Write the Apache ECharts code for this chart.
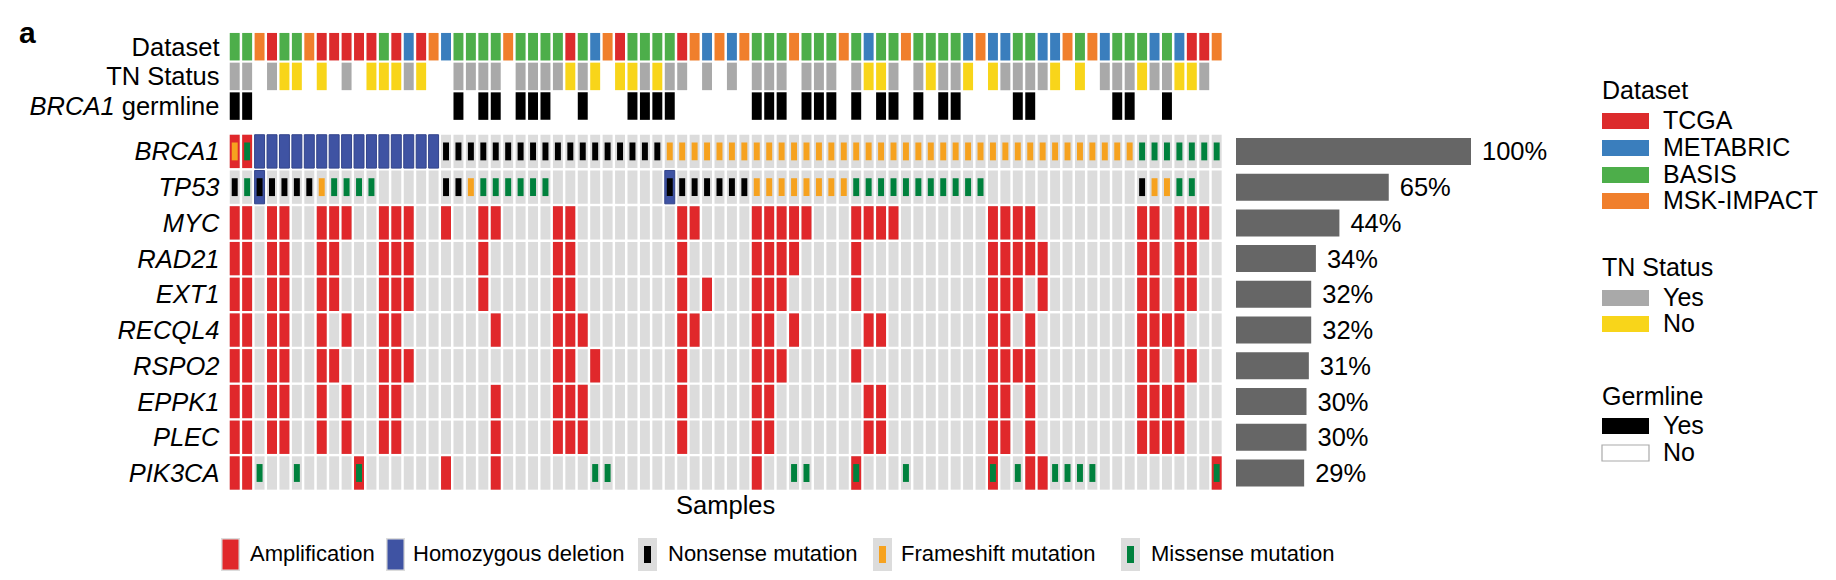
<!DOCTYPE html>
<html><head><meta charset="utf-8">
<script src="https://cdn.jsdelivr.net/npm/echarts@6/dist/echarts.min.js"></script>
<style>html,body{margin:0;padding:0;background:#fff}#c{width:1836px;height:580px}</style>
</head><body><div id="c"></div>
<script>
// ---------------- DATA ----------------
const samples = ['S01','S02','S03','S04','S05','S06','S07','S08','S09','S10','S11','S12','S13','S14','S15','S16','S17','S18','S19','S20',
'S21','S22','S23','S24','S25','S26','S27','S28','S29','S30','S31','S32','S33','S34','S35','S36','S37','S38','S39','S40',
'S41','S42','S43','S44','S45','S46','S47','S48','S49','S50','S51','S52','S53','S54','S55','S56','S57','S58','S59','S60',
'S61','S62','S63','S64','S65','S66','S67','S68','S69','S70','S71','S72','S73','S74','S75','S76','S77','S78','S79','S80'];
const annotationRows = ['Dataset', 'TN Status', 'BRCA1 germline'];
const genes = ['BRCA1','TP53','MYC','RAD21','EXT1','RECQL4','RSPO2','EPPK1','PLEC','PIK3CA'];
const genePercent = [100, 65, 44, 34, 32, 32, 31, 30, 30, 29];

// Dataset per sample (T=TCGA, M=METABRIC, B=BASIS, K=MSK-IMPACT)
const datasetBySample = [
 'B','B','K','T','B','B','K','T','T','T',  'T','T','B','T','M','T','K','M','B','B',
 'B','B','K','B','B','B','B','T','B','M',  'K','T','B','B','B','B','T','K','M','K',
 'M','K','B','B','B','K','B','B','B','K',  'B','M','B','B','K','B','B','B','B','M',
 'K','M','M','B','B','M','M','K','B','K',  'M','B','B','B','M','B','M','T','T','K'];
// TN status per sample (Y=Yes, N=No, ''=unknown)
const tnBySample = [
 'Y','Y','','Y','N','N','','N','','Y',  '','N','N','N','Y','N','','','Y','Y',
 'Y','Y','','Y','Y','Y','Y','N','Y','N',  '','N','N','Y','N','Y','Y','','Y','',
 'Y','','Y','Y','Y','','Y','Y','Y','',  'Y','N','N','Y','','Y','N','Y','Y','N',
 '','N','Y','Y','Y','Y','N','','N','',  'Y','Y','Y','N','Y','Y','N','N','Y',''];
// BRCA1 germline per sample (Y=Yes, ''=No)
const germlineBySample = [
 'Y','Y','','','','','','','','',  '','','','','','','','','Y','',
 'Y','Y','','Y','Y','Y','','','Y','',  '','','Y','Y','Y','Y','','','','',
 '','','Y','Y','Y','','Y','Y','Y','',  'Y','','Y','Y','','Y','','Y','Y','',
 '','','','Y','Y','','','','','',  '','Y','Y','','','Y','','','',''];

// Alterations per gene (A=amplification, H=homozygous deletion, N=nonsense, F=frameshift, M=missense)
const BRCA1 = [
 'AF','AM','H','H','H','H','H','H','H','H',  'H','H','H','H','H','H','H','N','N','N',
 'N','N','N','N','N','N','N','N','N','N',  'N','N','N','N','N','F','F','F','F','F',
 'F','F','F','F','F','F','F','F','F','F',  'F','F','F','F','F','F','F','F','F','F',
 'F','F','F','F','F','F','F','F','F','F',  'F','F','F','M','M','M','M','M','M','M'];
const TP53 = [
 'N','M','HN','N','N','N','N','F','M','M',  'M','M','','','','','','N','N','F',
 'M','M','M','M','M','M','','','','',  '','','','','','HN','N','N','N','N',
 'N','N','F','F','F','F','F','F','F','F',  'M','M','M','M','M','M','M','M','M','M',
 'M','','','','','','','','','',  '','','','N','F','F','M','M','',''];
const MYC = [
 'A','A','','A','A','','','A','A','A',  '','','A','A','A','','','A','','',
 'A','A','','','','','A','A','','',  '','','','','','','A','A','','',
 '','','A','A','A','A','A','','','',  'A','A','A','A','','','','','','',
 '','A','A','A','A','','','','','',  '','','','A','A','','A','A','A',''];
const RAD21 = [
 'A','A','','A','A','','','A','A','',  '','','A','A','A','','','','','',
 'A','','','','','','A','A','','',  '','','','','','','A','','','',
 '','','A','A','A','A','','','','',  'A','','','','','','','','','',
 '','A','A','A','A','A','','','','',  '','','','A','A','','A','A','',''];
const EXT1 = [
 'A','A','','A','A','','','A','A','',  '','','A','A','A','','','','','',
 'A','','','','','','A','A','','',  '','','','','','','A','','A','',
 '','','A','A','A','','','','','',  'A','','','','','','','','','',
 '','A','A','A','','A','','','','',  '','','','A','A','','A','A','',''];
const RECQL4 = [
 'A','A','','A','A','','','A','','A',  '','','A','A','','','','','','',
 '','A','','','','','A','A','A','',  '','','','','','','A','A','','',
 '','','A','A','','A','','','','',  '','A','A','','','','','','','',
 '','A','A','','A','','','','','',  '','','','A','A','A','A','','',''];
const RSPO2 = [
 'A','A','','A','A','','','A','A','',  '','','A','A','A','','','','','',
 '','','','','','','A','A','','A',  '','','','','','','A','','','',
 '','','A','A','A','','','','','',  'A','','','','','','','','','',
 '','A','A','A','A','','','','','',  '','','','A','A','','A','A','',''];
const EPPK1 = [
 'A','A','','A','A','','','A','','A',  '','','A','A','','','','','','',
 '','A','','','','','A','A','A','',  '','','','','','','A','','','',
 '','','A','A','','','','','','',  '','A','A','','','','','','','',
 '','A','A','','A','','','','','',  '','','','A','A','A','A','','',''];
const PLEC = [
 'A','A','','A','A','','','A','','A',  '','','A','A','','','','','','',
 '','A','','','','','A','A','A','',  '','','','','','','A','','','',
 '','','A','A','','','','','','',  '','A','A','','','','','','','',
 '','A','A','','A','','','','','',  '','','','A','A','A','A','','',''];
const PIK3CA = [
 'A','A','M','','','M','','','','',  'AM','','','','','','','A','','',
 '','A','','','','','','','','M',  'M','','','','','','','','','',
 '','','A','','','M','M','','','',  'AM','','','','M','','','','','',
 '','AM','','M','A','A','M','M','M','M',  '','','','','','','','','','AM'];
const alterationRows = [BRCA1, TP53, MYC, RAD21, EXT1, RECQL4, RSPO2, EPPK1, PLEC, PIK3CA];

// ---------------- STYLE ----------------
const C = {
  amp:'#E0282B', homdel:'#3F53A3', nonsense:'#000000', frameshift:'#F6A21F', missense:'#00813D',
  cell:'#DCDCDC', bar:'#666666'
};
const datasetColor = {T:'#DC2B2C', M:'#3A7EBD', B:'#4DAE4A', K:'#F07F2C'};
const tnColor = {Y:'#A9A9A9', N:'#F8D51A'};
const FONT = 'Liberation Sans, Arial, Helvetica, sans-serif';
const LABEL_FS = 25.5;

// ---------------- BUILD ----------------
const annotItems = [];
for (let i = 0; i < samples.length; i++) {
  annotItems.push({value:[i, 0], color: datasetColor[datasetBySample[i]]});
  if (tnBySample[i]) annotItems.push({value:[i, 1], color: tnColor[tnBySample[i]]});
  if (germlineBySample[i]) annotItems.push({value:[i, 2], color: '#000000'});
}
const bgItems = [];
const altItems = [];
for (let g = 0; g < genes.length; g++) {
  for (let i = 0; i < samples.length; i++) {
    bgItems.push([i, g]);
    const code = alterationRows[g][i];
    if (code) altItems.push({value:[i, g], code: code});
  }
}

function cellShape(api, col, row, wf, hf) {
  const c = api.coord([col, row]);
  const s = api.size([1, 1]);
  return {x: c[0] - s[0]*wf/2, y: c[1] - s[1]*hf/2, width: s[0]*wf, height: s[1]*hf};
}

const chart = echarts.init(document.getElementById('c'), null, {renderer:'svg'});
const gridLeft = 228.5, gridWidth = 994.4;

const legendGraphics = [];
const LX = 1602, LTX = 1663, LFS = 25;
function addLegendTitle(txt, y) {
  legendGraphics.push({type:'text', left:LX, top:y-14, style:{text:txt, font:LFS + 'px ' + FONT, fill:'#000'}});
}
function addLegendItem(color, txt, y, outline) {
  legendGraphics.push({type:'rect', shape:{x:LX, y:y-8, width:47, height:16},
    style: outline ? {fill:'#fff', stroke:'#aaaaaa', lineWidth:1.2} : {fill:color}});
  legendGraphics.push({type:'text', left:LTX, top:y-14, style:{text:txt, font:LFS + 'px ' + FONT, fill:'#000'}});
}
addLegendTitle('Dataset', 91);
addLegendItem(datasetColor.T, 'TCGA', 121);
addLegendItem(datasetColor.M, 'METABRIC', 148);
addLegendItem(datasetColor.B, 'BASIS', 175);
addLegendItem(datasetColor.K, 'MSK-IMPACT', 201);
addLegendTitle('TN Status', 268);
addLegendItem(tnColor.Y, 'Yes', 298);
addLegendItem(tnColor.N, 'No', 324);
addLegendTitle('Germline', 397);
addLegendItem('#000', 'Yes', 426);
addLegendItem('#fff', 'No', 453, true);

// bottom legend
const bottomLegend = [
  {kind:'full', color:C.amp, text:'Amplification', x:221, tx:250},
  {kind:'full', color:C.homdel, text:'Homozygous deletion', x:386, tx:413},
  {kind:'inner', color:C.nonsense, text:'Nonsense mutation', x:638, tx:668},
  {kind:'inner', color:C.frameshift, text:'Frameshift mutation', x:873, tx:901},
  {kind:'inner', color:C.missense, text:'Missense mutation', x:1121, tx:1151}
];
bottomLegend.forEach(function (b) {
  legendGraphics.push({type:'rect', shape:{x:b.x, y:538, width:19, height:33}, style:{fill:C.cell}});
  if (b.kind === 'full') {
    legendGraphics.push({type:'rect', shape:{x:b.x+1.5, y:539.5, width:16, height:30}, style:{fill:b.color}});
  } else {
    legendGraphics.push({type:'rect', shape:{x:b.x+6, y:546, width:7, height:17}, style:{fill:b.color}});
  }
  legendGraphics.push({type:'text', left:b.tx, top:542, style:{text:b.text, font:'22px ' + FONT, fill:'#000'}});
});
legendGraphics.push({type:'text', left:19, top:17, style:{text:'a', font:'bold 30px ' + FONT, fill:'#000'}});

const hiddenAxis = {axisLine:{show:false}, axisTick:{show:false}, axisLabel:{show:false}, splitLine:{show:false}};

chart.setOption({
  animation:false,
  backgroundColor:'#ffffff',
  textStyle:{fontFamily:FONT},
  grid:[
    {left:gridLeft, top:31.85, width:gridWidth, height:89.1},
    {left:gridLeft, top:133.55, width:gridWidth, height:357.3},
    {left:1236, top:133.55, width:235, height:357.3}
  ],
  xAxis:[
    Object.assign({type:'category', data:samples, gridIndex:0}, hiddenAxis),
    Object.assign({type:'category', data:samples, gridIndex:1, name:'Samples', nameLocation:'middle', nameGap:1,
      nameTextStyle:{fontSize:LABEL_FS, color:'#000', fontFamily:FONT, verticalAlign:'top'}}, hiddenAxis),
    Object.assign({type:'value', min:0, max:100, gridIndex:2}, hiddenAxis)
  ],
  yAxis:[
    {type:'category', data:annotationRows, gridIndex:0, inverse:true, axisLine:{show:false}, axisTick:{show:false},
      axisLabel:{interval:0, margin:9, fontSize:LABEL_FS, color:'#000', fontFamily:FONT,
        formatter:function (v) { return v === 'BRCA1 germline' ? '{i|BRCA1} germline' : v; },
        rich:{i:{fontStyle:'italic', fontSize:LABEL_FS, color:'#000', fontFamily:FONT}}}},
    {type:'category', data:genes, gridIndex:1, inverse:true, axisLine:{show:false}, axisTick:{show:false},
      axisLabel:{interval:0, margin:9, fontSize:LABEL_FS, color:'#000', fontStyle:'italic', fontFamily:FONT}},
    Object.assign({type:'category', data:genes, gridIndex:2, inverse:true}, hiddenAxis)
  ],
  graphic: legendGraphics,
  series:[
    {type:'custom', xAxisIndex:0, yAxisIndex:0, data:annotItems, encode:{x:0, y:1},
      renderItem:function (params, api) {
        const it = annotItems[params.dataIndex];
        return {type:'rect', shape:cellShape(api, api.value(0), api.value(1), 0.8, 0.926),
          style:{fill:it.color}};
      }},
    {type:'custom', xAxisIndex:1, yAxisIndex:1, data:bgItems, encode:{x:0, y:1},
      renderItem:function (params, api) {
        return {type:'rect', shape:cellShape(api, api.value(0), api.value(1), 0.8, 0.933),
          style:{fill:C.cell}};
      }},
    {type:'custom', xAxisIndex:1, yAxisIndex:1, data:altItems, encode:{x:0, y:1},
      renderItem:function (params, api) {
        const it = altItems[params.dataIndex];
        const col = api.value(0), row = api.value(1);
        const ch = [];
        if (it.code.indexOf('A') >= 0) ch.push({type:'rect', shape:cellShape(api, col, row, 0.8, 0.933), style:{fill:C.amp}});
        if (it.code.indexOf('H') >= 0) ch.push({type:'rect', shape:cellShape(api, col, row, 0.8, 0.933), style:{fill:C.homdel, stroke:'#34458c', lineWidth:1}});
        const inner = cellShape(api, col, row, 0.48, 0.5);
        if (it.code.indexOf('N') >= 0) ch.push({type:'rect', shape:inner, style:{fill:C.nonsense}});
        if (it.code.indexOf('F') >= 0) ch.push({type:'rect', shape:inner, style:{fill:C.frameshift}});
        if (it.code.indexOf('M') >= 0) ch.push({type:'rect', shape:inner, style:{fill:C.missense}});
        return {type:'group', children:ch};
      }},
    {type:'bar', xAxisIndex:2, yAxisIndex:2, data:genePercent, barWidth:27,
      itemStyle:{color:C.bar},
      label:{show:true, position:'right', distance:11, formatter:'{c}%', fontSize:LABEL_FS, color:'#000', fontFamily:FONT}}
  ]
});
</script>
</body></html>
